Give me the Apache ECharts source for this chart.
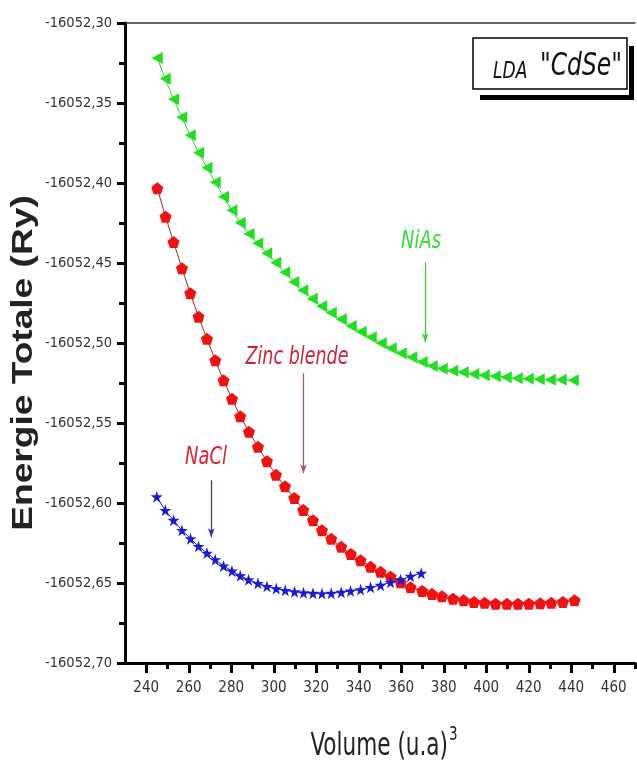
<!DOCTYPE html>
<html>
<head>
<meta charset="utf-8">
<script src="https://cdn.jsdelivr.net/npm/echarts@6/dist/echarts.min.js"></script>
<style>
html,body{margin:0;padding:0;background:#fff;}
#c{width:637px;height:765px;}
</style>
</head>
<body>
<div id="c"></div>
<script>
// ---- data ----
const xTickLabels = [240,260,280,300,320,340,360,380,400,420,440,460];
const xMinorTicks = [250,270,290,310,330,350,370,390,410,430,450,470];

const volNiAs = [245.18,248.94,252.85,256.71,260.71,264.61,268.56,272.47,276.38,280.33,284.24,288.38,292.47,296.71,300.94,305.18,309.41,313.65,318.12,322.59,327.06,331.76,336.47,341.18,345.88,350.59,355.29,360.00,364.94,369.88,374.59,379.29,384.24,389.18,394.12,399.06,404.24,409.41,414.59,419.76,424.94,430.12,435.29,440.94];
const eNiAs = [-16052.3218,-16052.3349,-16052.3477,-16052.3589,-16052.3702,-16052.3811,-16052.3905,-16052.3996,-16052.4086,-16052.4171,-16052.4249,-16052.4318,-16052.4377,-16052.4439,-16052.4499,-16052.4558,-16052.4618,-16052.4671,-16052.4724,-16052.4771,-16052.4811,-16052.4852,-16052.4893,-16052.4930,-16052.4964,-16052.5002,-16052.5033,-16052.5064,-16052.5089,-16052.5118,-16052.5143,-16052.5161,-16052.5174,-16052.5183,-16052.5193,-16052.5202,-16052.5208,-16052.5214,-16052.5221,-16052.5224,-16052.5227,-16052.5230,-16052.5230,-16052.5233];

const volZB = [245.18,249.08,252.85,256.80,260.71,264.61,268.56,272.47,276.38,280.33,284.24,288.33,292.56,296.80,301.04,305.27,309.65,313.88,318.45,322.68,327.06,331.76,336.24,340.85,345.55,350.26,354.96,359.67,364.38,369.88,374.45,379.15,384.33,389.32,394.21,399.20,404.38,409.74,414.92,420.09,425.41,430.59,436.09,441.55];
const eZB = [-16052.4033,-16052.4211,-16052.4369,-16052.4533,-16052.4689,-16052.4836,-16052.4974,-16052.5108,-16052.5233,-16052.5349,-16052.5458,-16052.5555,-16052.5649,-16052.5739,-16052.5824,-16052.5896,-16052.5968,-16052.6043,-16052.6108,-16052.6171,-16052.6224,-16052.6274,-16052.6318,-16052.6358,-16052.6399,-16052.6430,-16052.6461,-16052.6496,-16052.6527,-16052.6550,-16052.6568,-16052.6583,-16052.6598,-16052.6608,-16052.6618,-16052.6624,-16052.6629,-16052.6630,-16052.6630,-16052.6629,-16052.6627,-16052.6624,-16052.6618,-16052.6608];

const volNaCl = [244.94,248.94,252.85,256.80,260.85,264.61,268.56,272.47,276.38,280.33,284.24,288.14,292.56,296.80,301.18,305.41,309.79,314.02,318.45,322.68,327.06,331.76,336.14,340.85,345.55,350.26,354.96,359.67,364.38,369.41];
const eNaCl = [-16052.5961,-16052.6046,-16052.6108,-16052.6171,-16052.6223,-16052.6271,-16052.6313,-16052.6354,-16052.6393,-16052.6425,-16052.6455,-16052.6480,-16052.6502,-16052.6521,-16052.6535,-16052.6546,-16052.6555,-16052.6561,-16052.6564,-16052.6566,-16052.6564,-16052.6558,-16052.6550,-16052.6541,-16052.6527,-16052.6514,-16052.6496,-16052.6480,-16052.6458,-16052.6439];

// annotation arrows: [volume, energy start, energy end]
const arrowNiAs = [371.3, -16052.4496, -16052.4996];
const arrowZB = [314.0, -16052.5189, -16052.5814];
const arrowNaCl = [270.6, -16052.5858, -16052.6214];

const zip = (a, b) => a.map((v, i) => [v, b[i]]);

const NARROW = '"DejaVu Sans Condensed","Liberation Sans Narrow",sans-serif';
const triLeft = 'path://M0,50 L100,0 L100,100 Z';
const pentagon = 'path://M50,0 L98,36 L80,94 L20,94 L2,36 Z';
const star = 'path://M50,0 L61,35 L98,35 L68,57 L79,92 L50,71 L21,92 L32,57 L2,35 L39,35 Z';

function arrowLine(a, color) {
  return {
    silent: true,
    symbol: ['none', 'arrow'],
    symbolSize: [5, 9],
    lineStyle: { color: color, width: 1.2, type: 'solid' },
    label: { show: false },
    emphasis: { disabled: true },
    data: [[{ coord: [a[0], a[1]] }, { coord: [a[0], a[2]] }]]
  };
}

const chart = echarts.init(document.getElementById('c'), null, { renderer: 'canvas' });
chart.setOption({
  animation: false,
  backgroundColor: '#fff',
  grid: { left: 125, right: 2, top: 23, bottom: 102, containLabel: false, outerBoundsMode: 'none' },
  xAxis: [
    {
      type: 'value', min: 230, max: 470, interval: 10, position: 'bottom',
      axisLine: { show: true, lineStyle: { color: '#000', width: 3 } },
      axisTick: { show: true, customValues: xTickLabels, length: 10, inside: false, lineStyle: { color: '#000', width: 3 } },
      axisLabel: { customValues: xTickLabels, margin: 18, color: '#333', fontSize: 15, fontFamily: NARROW },
      splitLine: { show: false }
    },
    {
      type: 'value', min: 230, max: 470, interval: 10, position: 'bottom',
      axisLine: { show: false },
      axisTick: { show: true, customValues: xMinorTicks, length: 6, lineStyle: { color: '#000', width: 3 } },
      axisLabel: { show: false },
      splitLine: { show: false }
    },
    {
      type: 'value', min: 230, max: 470, interval: 10, position: 'top',
      axisLine: { show: true, lineStyle: { color: '#333', width: 1.5 } },
      axisTick: { show: false }, axisLabel: { show: false }, splitLine: { show: false }
    }
  ],
  yAxis: {
    type: 'value', min: -16052.70, max: -16052.30, interval: 0.05,
    axisLine: { show: true, lineStyle: { color: '#000', width: 3 } },
    axisTick: { show: true, length: 8, lineStyle: { color: '#000', width: 3 } },
    minorTick: { show: true, splitNumber: 2, length: 6, lineStyle: { color: '#000', width: 3 } },
    axisLabel: {
      margin: 13, color: '#333', fontSize: 14.5, fontFamily: NARROW,
      formatter: v => v.toFixed(2).replace('.', ',')
    },
    splitLine: { show: false }, minorSplitLine: { show: false }
  },
  series: [
    {
      name: 'NiAs', type: 'line', data: zip(volNiAs, eNiAs),
      symbol: triLeft, symbolSize: [11, 12], showSymbol: true,
      itemStyle: { color: '#1fe01f' },
      lineStyle: { color: '#1fe01f', width: 1 },
      markLine: arrowLine(arrowNiAs, '#33cc33')
    },
    {
      name: 'Zinc blende', type: 'line', data: zip(volZB, eZB),
      symbol: pentagon, symbolSize: 12, showSymbol: true,
      itemStyle: { color: '#f01212' },
      lineStyle: { color: '#8a3030', width: 1 },
      markLine: arrowLine(arrowZB, '#b05060')
    },
    {
      name: 'NaCl', type: 'line', data: zip(volNaCl, eNaCl),
      symbol: star, symbolSize: 12, showSymbol: true,
      itemStyle: { color: '#1a1ad6' },
      lineStyle: { color: '#1a1ad6', width: 1 },
      markLine: arrowLine(arrowNaCl, '#3030a8')
    }
  ],
  graphic: [
    // legend box with shadow
    { type: 'rect', shape: { x: 480, y: 95, width: 154, height: 5 }, style: { fill: '#000' }, silent: true },
    { type: 'rect', shape: { x: 629, y: 46, width: 5, height: 54 }, style: { fill: '#000' }, silent: true },
    { type: 'rect', shape: { x: 473, y: 38, width: 154, height: 51 }, style: { fill: '#fff', stroke: '#000', lineWidth: 1.5 }, silent: true },
    { type: 'text', x: 493, y: 72, scaleY: 1.2, style: { text: 'LDA', font: 'italic 19px ' + NARROW, fill: '#111', verticalAlign: 'middle' }, silent: true },
    { type: 'text', x: 540, y: 67, scaleY: 1.2, style: { text: '"CdSe"', font: 'italic 26px ' + NARROW, fill: '#111', verticalAlign: 'middle' }, silent: true },
    // annotation labels
    { type: 'text', x: 421, y: 241, scaleY: 1.25, style: { text: 'NiAs', font: 'italic 20px ' + NARROW, fill: '#33dd33', align: 'center', verticalAlign: 'middle' }, silent: true },
    { type: 'text', x: 297, y: 358, scaleY: 1.25, style: { text: 'Zinc blende', font: 'italic 19.5px ' + NARROW, fill: '#cc2240', align: 'center', verticalAlign: 'middle' }, silent: true },
    { type: 'text', x: 206, y: 457, scaleY: 1.25, style: { text: 'NaCl', font: 'italic 20px ' + NARROW, fill: '#dd2238', align: 'center', verticalAlign: 'middle' }, silent: true },
    // axis titles
    { type: 'text', x: 24, y: 363, rotation: Math.PI / 2, scaleX: 1.28,
      style: { text: 'Energie Totale (Ry)', font: 'bold 29px "Liberation Sans",Arial,sans-serif', fill: '#222', align: 'center', verticalAlign: 'middle' }, silent: true },
    { type: 'text', x: 384, y: 747, scaleY: 1.3,
      style: {
        text: '{a|Volume (u.a)}{s|3}', align: 'center', verticalAlign: 'middle',
        rich: {
          a: { font: '24px ' + NARROW, fill: '#222' },
          s: { font: '15px ' + NARROW, fill: '#222', verticalAlign: 'bottom', padding: [0, 0, 18, 1] }
        }
      }, silent: true }
  ]
});
</script>
</body>
</html>
